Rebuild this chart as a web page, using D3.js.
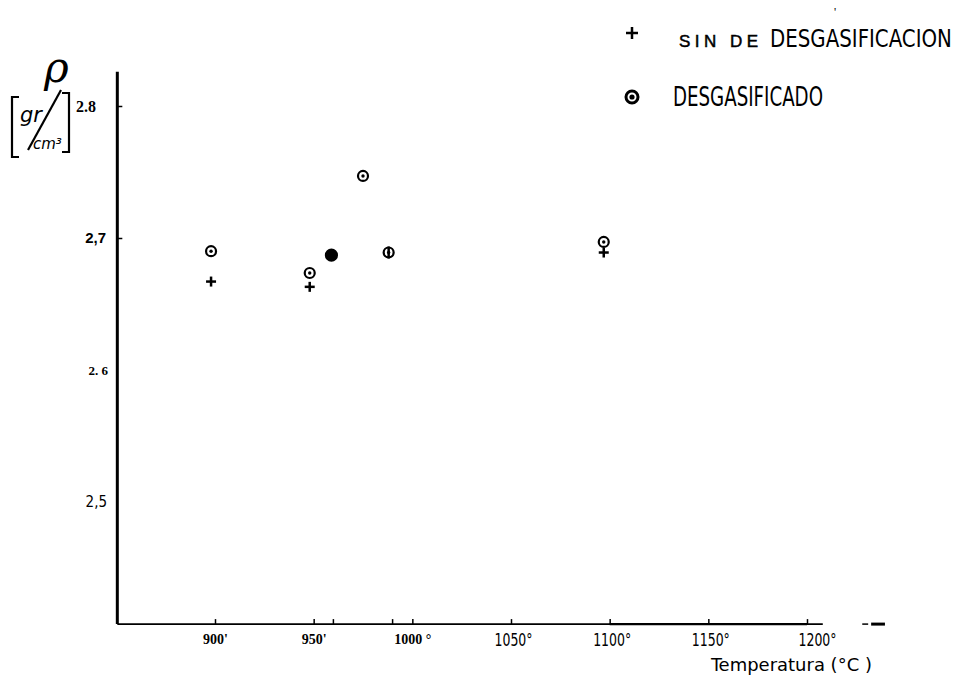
<!DOCTYPE html>
<html>
<head>
<meta charset="utf-8">
<script src="https://cdn.jsdelivr.net/npm/d3@7"></script>
<style>
  body { margin: 0; background: #fff; }
  svg { display: block; }
</style>
</head>
<body>
<svg id="chart" width="960" height="677"></svg>
<script>
// Density vs temperature, two series
const sinTemps = [898, 948, 959, 988, 1097];
const sinDensity = [2.667, 2.663, 2.687, 2.689, 2.689];

const desTemps = [898, 948, 959, 975, 988, 1097];
const desDensity = [2.690, 2.6735, 2.687, 2.747, 2.689, 2.697];

const xTickValues = [900, 950, 1000, 1050, 1100, 1150, 1200];
const xTickLabels = ["900'", "950'", "1000 °", "1050°", "1100°", "1150°", "1200°"];
const xMinorTicks = [960, 990];

const yTickValues = [2.5, 2.6, 2.7, 2.8];
const yTickLabels = ["2,5", "2. 6", "2,7", "2.8"];

const legendLabels = ["SIN DE DESGASIFICACION", "DESGASIFICADO"];

const NARROW = "Liberation Sans Narrow, DejaVu Sans Condensed, Liberation Sans, sans-serif";

const svg = d3.select("#chart");

const x = d3.scaleLinear().domain([900, 1200]).range([215, 807]);
const y = d3.scaleLinear().domain([2.5, 2.8]).range([502, 106]);

const xFrame = [850.5, 1208];
const yFrame = [2.4075, 2.826];
const axisY = y(yFrame[0]);
const axisX = x(xFrame[0]);

const g = svg.append("g");

// squeeze a text horizontally so it spans `width` px, starting at (x0, y0)
function narrowText(sel, x0, y0, width) {
  const w = sel.node().getComputedTextLength();
  sel.attr("x", 0).attr("y", 0)
    .attr("transform", `translate(${x0},${y0}) scale(${width / w},1)`);
  return sel;
}

// y axis line (thick)
g.append("line")
  .attr("x1", axisX).attr("x2", axisX)
  .attr("y1", y(yFrame[1])).attr("y2", axisY)
  .attr("stroke", "#000")
  .attr("stroke-width", 3);

// x axis line
g.append("line")
  .attr("x1", axisX).attr("x2", x(xFrame[1]))
  .attr("y1", axisY).attr("y2", axisY)
  .attr("stroke", "#000")
  .attr("stroke-width", 1.6);
g.append("line")
  .attr("x1", x(1100)).attr("x2", x(1200))
  .attr("y1", axisY).attr("y2", axisY)
  .attr("stroke", "#000")
  .attr("stroke-width", 2.4);

// arrow after the axis
g.append("line")
  .attr("x1", x(1228)).attr("x2", x(1231))
  .attr("y1", axisY).attr("y2", axisY)
  .attr("stroke", "#000")
  .attr("stroke-width", 1.5);
g.append("line")
  .attr("x1", x(1232.5)).attr("x2", x(1239.5))
  .attr("y1", axisY).attr("y2", axisY)
  .attr("stroke", "#000")
  .attr("stroke-width", 3);

// x axis ticks + labels
const xAxis = d3.axisBottom(x)
  .tickValues(xTickValues)
  .tickSizeInner(-5)
  .tickSizeOuter(0)
  .tickPadding(10)
  .tickFormat((d, i) => xTickLabels[i]);

const xg = g.append("g")
  .attr("transform", `translate(0,${axisY})`)
  .call(xAxis);
xg.select(".domain").remove();
xg.selectAll(".tick line").attr("stroke", "#000").attr("stroke-width", 1.5);
xg.selectAll(".tick text")
  .attr("fill", "#000")
  .attr("font-size", (d, i) => i < 3 ? "14px" : "17px")
  .attr("font-family", (d, i) => i < 3 ? "Liberation Serif, serif" : NARROW)
  .attr("font-weight", (d, i) => i < 3 ? "bold" : "normal")
  .attr("dx", (d, i) => i === 6 ? "10px" : i > 2 ? "2px" : "0px")
  .attr("textLength", (d, i) => i < 3 ? null : 38)
  .attr("lengthAdjust", "spacingAndGlyphs");

g.selectAll(".minor-tick")
  .data(xMinorTicks)
  .join("line")
  .attr("class", "minor-tick")
  .attr("x1", d => x(d)).attr("x2", d => x(d))
  .attr("y1", axisY).attr("y2", axisY - 5)
  .attr("stroke", "#000")
  .attr("stroke-width", 1.5);

// y axis ticks + labels
const yAxis = d3.axisRight(y)
  .tickValues(yTickValues)
  .tickSizeInner(5)
  .tickSizeOuter(0)
  .tickFormat(() => "");
const yg = g.append("g")
  .attr("transform", `translate(${axisX},0)`)
  .call(yAxis);
yg.select(".domain").remove();
yg.selectAll(".tick line").attr("stroke", "#000").attr("stroke-width", 1.5);
yg.selectAll(".tick").filter(d => d === 2.5 || d === 2.6).remove();

const yLabelStyle = {
  2.5: { font: NARROW, weight: "normal", size: 15, right: 107 },
  2.6: { font: "Liberation Serif, serif", weight: "bold", size: 13, right: 108 },
  2.7: { font: "Liberation Sans, sans-serif", weight: "bold", size: 15, right: 106 },
  2.8: { font: "Liberation Serif, serif", weight: "bold", size: 16, right: 96 }
};
g.selectAll(".ylab")
  .data(yTickValues)
  .join("text")
  .attr("class", "ylab")
  .attr("x", d => yLabelStyle[d].right)
  .attr("y", d => y(d))
  .attr("dy", "0.35em")
  .attr("text-anchor", "end")
  .attr("font-family", d => yLabelStyle[d].font)
  .attr("font-weight", d => yLabelStyle[d].weight)
  .attr("font-size", d => yLabelStyle[d].size + "px")
  .attr("fill", "#000")
  .text((d, i) => yTickLabels[i]);

// handwritten unit label: rho [gr/cm3]
const unit = g.append("g").attr("fill", "none").attr("stroke", "#000").attr("stroke-width", 2.2);
unit.append("path").attr("d", "M19,97 L12,97 L12,157 L19,157");
unit.append("path").attr("d", "M62,93 L69,93 L69,152 L62,152");
unit.append("path").attr("d", "M61,90 L28,150");
g.append("text")
  .attr("x", 44).attr("y", 82)
  .attr("font-family", "DejaVu Serif, serif")
  .attr("font-style", "italic")
  .attr("font-size", "42px")
  .attr("fill", "#000")
  .text("ρ");
g.append("text")
  .attr("x", 20).attr("y", 122)
  .attr("font-family", "DejaVu Sans, sans-serif")
  .attr("font-style", "italic")
  .attr("font-size", "21px")
  .attr("fill", "#000")
  .text("gr");
g.append("text")
  .attr("x", 33).attr("y", 149)
  .attr("font-family", "DejaVu Sans, sans-serif")
  .attr("font-style", "italic")
  .attr("font-size", "15px")
  .attr("fill", "#000")
  .text("cm³");

// x axis title
g.append("text")
  .attr("font-family", NARROW)
  .attr("font-size", "18px")
  .attr("fill", "#000")
  .text("Temperatura (°C  )")
  .call(narrowText, 711, 671, 161);

// markers
function plus(sel, size, width) {
  sel.append("line").attr("x1", -size).attr("x2", size).attr("y1", 0).attr("y2", 0)
    .attr("stroke", "#000").attr("stroke-width", width);
  sel.append("line").attr("x1", 0).attr("x2", 0).attr("y1", -size).attr("y2", size)
    .attr("stroke", "#000").attr("stroke-width", width);
}
function ringDot(sel, r, w, dot) {
  sel.append("circle").attr("r", r).attr("fill", "#fff").attr("stroke", "#000").attr("stroke-width", w);
  sel.append("circle").attr("r", dot).attr("fill", "#000");
}

const sinData = sinTemps.map((t, i) => ({ t, v: sinDensity[i] }));
const desData = desTemps.map((t, i) => ({ t, v: desDensity[i] }));

g.selectAll(".sin")
  .data(sinData)
  .join("g")
  .attr("class", "sin")
  .attr("transform", d => `translate(${x(d.t)},${y(d.v)})`)
  .each(function () { plus(d3.select(this), 5, 2.5); });

const des = g.selectAll(".des")
  .data(desData)
  .join("g")
  .attr("class", "des")
  .attr("transform", d => `translate(${x(d.t)},${y(d.v)})`)
  .each(function () { ringDot(d3.select(this), 5, 2.2, 1.7); });

// points where both series coincide look filled / crossed in the original
des.filter(d => sinData.some(s => s.t === d.t && Math.abs(s.v - d.v) < 0.0015))
  .each(function (d) {
    const s = d3.select(this);
    if (d.t < 970) {
      s.select("circle").attr("fill", "#000").attr("r", 5.5);
    } else {
      s.append("line").attr("x1", 0).attr("x2", 0).attr("y1", -6).attr("y2", 6)
        .attr("stroke", "#000").attr("stroke-width", 2.5);
    }
  });

// legend
const legend = g.append("g");
const lp = legend.append("g").attr("transform", "translate(632,33)");
plus(lp, 6, 2.5);
const lc = legend.append("g").attr("transform", "translate(632,97)");
ringDot(lc, 6, 3, 2.6);

legend.append("text")
  .attr("x", 679).attr("y", 47)
  .attr("font-family", "Liberation Sans, sans-serif")
  .attr("font-size", "17px")
  .attr("stroke", "#000")
  .attr("stroke-width", 0.5)
  .style("letter-spacing", "4.5px")
  .attr("fill", "#000")
  .text(legendLabels[0].slice(0, 6));

legend.append("text")
  .attr("font-family", NARROW)
  .attr("font-size", "25px")
  .attr("fill", "#000")
  .text(legendLabels[0].slice(7))
  .call(narrowText, 770, 47, 182);

legend.append("text")
  .attr("font-family", NARROW)
  .attr("font-size", "26px")
  .attr("fill", "#000")
  .text(legendLabels[1])
  .call(narrowText, 673, 106, 150);

// small stray mark at the top
g.append("text")
  .attr("x", 834).attr("y", 16)
  .attr("font-size", "12px")
  .attr("fill", "#000")
  .text("'");
</script>
</body>
</html>
